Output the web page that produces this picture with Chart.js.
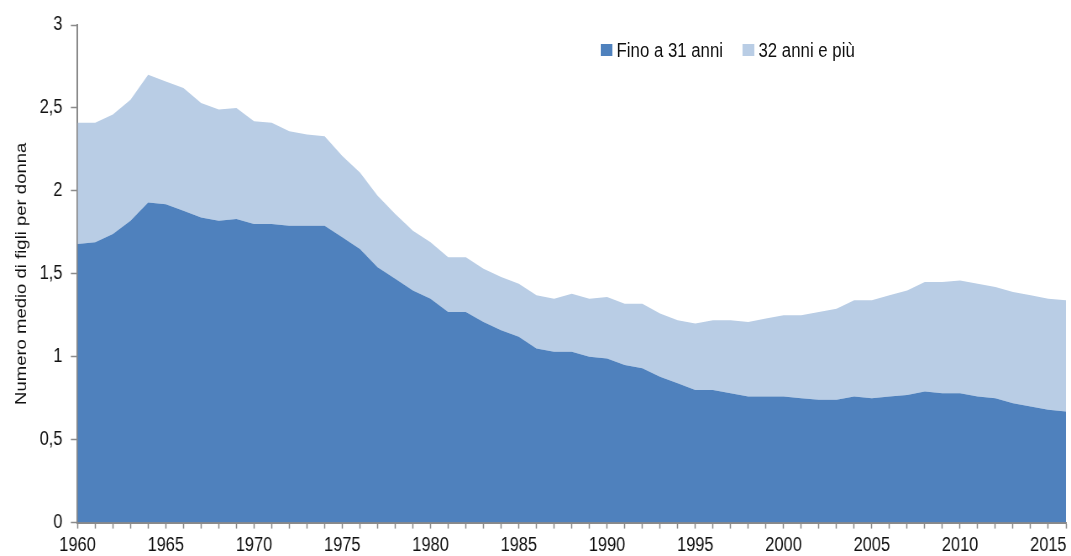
<!DOCTYPE html>
<html>
<head>
<meta charset="utf-8">
<script src="https://cdn.jsdelivr.net/npm/chart.js@4.4.1/dist/chart.umd.min.js"></script>
<style>
  html, body { margin: 0; padding: 0; background: #fff; overflow: hidden; }
  #outer { position: relative; width: 1071px; height: 556px; overflow: hidden; }
  #wrap { position: absolute; left: 0; top: 0; width: 1275px; height: 556px; transform: scaleX(0.84); transform-origin: 0 0; }
  canvas { position: absolute; left: 0; top: 0; }
  .lg-box { position: absolute; width: 14px; height: 12px; }
  .lg-txt { position: absolute; font-family: 'Liberation Sans', Arial, sans-serif; font-size: 20px; line-height: 20px; color: #111; white-space: nowrap; }
</style>
</head>
<body>
<div id="outer">
<div id="wrap">
  <canvas id="c" width="1275" height="556"></canvas>
  <div class="lg-box" style="left:715px;top:44px;background:#4F81BD"></div>
  <div class="lg-txt" id="lg1" style="left:734px;top:40px"></div>
  <div class="lg-box" style="left:884px;top:44px;background:#B9CDE5"></div>
  <div class="lg-txt" id="lg2" style="left:903px;top:40px"></div>
</div>
</div>
<script>
const years = [1960,1961,1962,1963,1964,1965,1966,1967,1968,1969,1970,1971,1972,1973,1974,1975,1976,1977,1978,1979,
  1980,1981,1982,1983,1984,1985,1986,1987,1988,1989,1990,1991,1992,1993,1994,1995,1996,1997,1998,1999,
  2000,2001,2002,2003,2004,2005,2006,2007,2008,2009,2010,2011,2012,2013,2014,2015,2016];

const seriesNames = ['Fino a 31 anni', '32 anni e più'];

// Fino a 31 anni
const finoA31 = [1.68,1.69,1.74,1.82,1.93,1.92,1.88,1.84,1.82,1.83,1.80,1.80,1.79,1.79,1.79,1.72,1.65,1.54,1.47,1.40,
  1.35,1.27,1.27,1.21,1.16,1.12,1.05,1.03,1.03,1.00,0.99,0.95,0.93,0.88,0.84,0.80,0.80,0.78,0.76,0.76,
  0.76,0.75,0.74,0.74,0.76,0.75,0.76,0.77,0.79,0.78,0.78,0.76,0.75,0.72,0.70,0.68,0.67];

// 32 anni e più
const da32 = [0.73,0.72,0.72,0.73,0.77,0.74,0.74,0.69,0.67,0.67,0.62,0.61,0.57,0.55,0.54,0.49,0.46,0.43,0.39,0.36,
  0.34,0.33,0.33,0.32,0.32,0.32,0.32,0.32,0.35,0.35,0.37,0.37,0.39,0.38,0.38,0.40,0.42,0.44,0.45,0.47,
  0.49,0.50,0.53,0.55,0.58,0.59,0.61,0.63,0.66,0.67,0.68,0.68,0.67,0.67,0.67,0.67,0.67];

const yTickLabels = ['0','0,5','1','1,5','2','2,5','3'];
const yTitle = 'Numero medio di figli per donna';

document.getElementById('lg1').textContent = seriesNames[0];
document.getElementById('lg2').textContent = seriesNames[1];

const font = "'Liberation Sans', Arial, sans-serif";
const axisColor = '#8a8a8a';

new Chart(document.getElementById('c'), {
  type: 'line',
  data: {
    labels: years,
    datasets: [
      { label: seriesNames[0], data: finoA31, backgroundColor: '#4F81BD', borderWidth: 0, pointRadius: 0, fill: 'origin', tension: 0 },
      { label: seriesNames[1], data: da32, backgroundColor: '#B9CDE5', borderWidth: 0, pointRadius: 0, fill: '-1', tension: 0 }
    ]
  },
  options: {
    responsive: false,
    animation: false,
    events: [],
    layout: { padding: { left: 4, right: 6, top: 25, bottom: -6 } },
    plugins: { legend: { display: false }, tooltip: { enabled: false } },
    scales: {
      x: {
        type: 'category',
        offset: false,
        border: { display: true, color: axisColor, width: 2 },
        grid: { display: true, drawOnChartArea: false, drawTicks: true, tickLength: 6, tickColor: axisColor, tickWidth: 1.5 },
        ticks: {
          autoSkip: false, maxRotation: 0, minRotation: 0, padding: 5,
          color: '#111', font: { family: font, size: 19.5 },
          callback: (v, i) => (years[i] % 5 === 0 ? String(years[i]) : '')
        }
      },
      y: {
        stacked: true,
        min: 0, max: 3,
        border: { display: true, color: axisColor, width: 2 },
        grid: { display: true, drawOnChartArea: false, drawTicks: true, tickLength: 8, tickColor: axisColor, tickWidth: 1.5 },
        ticks: {
          stepSize: 0.5, padding: 10,
          color: '#111', font: { family: font, size: 19.5 },
          callback: (v, i) => yTickLabels[i]
        },
        title: {
          display: true, text: yTitle, color: '#111',
          font: { family: font, size: 18.5 },
          padding: { top: 11, bottom: 0 }
        }
      }
    }
  }
});
</script>
</body>
</html>
